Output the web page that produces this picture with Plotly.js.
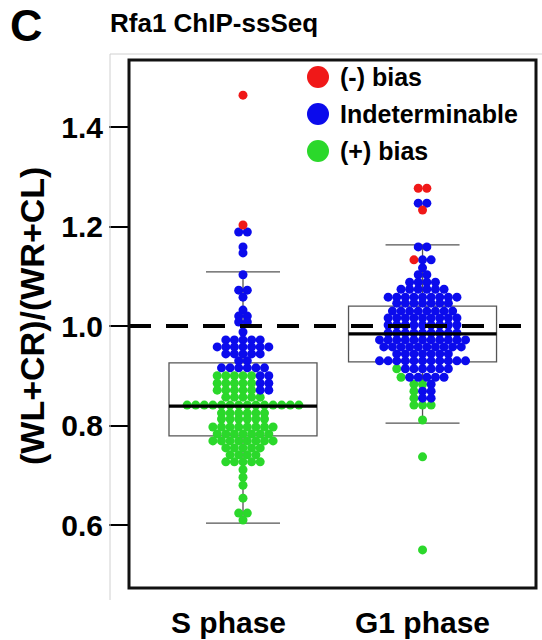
<!DOCTYPE html>
<html>
<head>
<meta charset="utf-8">
<script src="https://cdn.plot.ly/plotly-3.0.1.min.js"></script>
<style>html,body{margin:0;padding:0;background:#fff;}#chart{width:542px;height:640px;}</style>
</head>
<body>
<div id="chart"></div>
<script>
// ---------------- data ----------------
const categories = ['S phase', 'G1 phase'];
const legendLabels = ['(-) bias', 'Indeterminable', '(+) bias'];
const seriesColors = ['#f01818', '#0b0bec', '#2bd82b'];

const sRed = [1.464, 1.203];
const sBlue = [1.189, 1.189, 1.159, 1.147, 1.103, 1.072, 1.072, 1.058, 1.032, 1.020, 1.020,
  1.008, 1.008, 0.988,
  0.972, 0.972, 0.972, 0.972, 0.972,
  0.958, 0.958, 0.958, 0.958, 0.958, 0.958, 0.958,
  0.944, 0.944, 0.944, 0.944, 0.944,
  0.930, 0.930,
  0.916, 0.916, 0.916, 0.916, 0.916, 0.916,
  0.900, 0.900, 0.885, 0.885, 0.871, 0.871];
const sGreen = [0.900, 0.900, 0.900, 0.900, 0.900,
  0.885, 0.885, 0.885, 0.885, 0.885,
  0.871, 0.871, 0.871, 0.871, 0.871,
  0.857, 0.857, 0.857, 0.857, 0.857,
  0.841, 0.841, 0.841, 0.841, 0.841, 0.841, 0.841, 0.841, 0.841, 0.841, 0.841, 0.841, 0.841, 0.841,
  0.825, 0.825, 0.825, 0.825, 0.825, 0.825,
  0.813, 0.813, 0.813, 0.813, 0.813, 0.813,
  0.797, 0.797, 0.797, 0.797, 0.797, 0.797, 0.797, 0.797,
  0.783, 0.783, 0.783, 0.783, 0.783, 0.783, 0.783,
  0.769, 0.769, 0.769, 0.769, 0.769, 0.769, 0.769, 0.769,
  0.755, 0.755, 0.755, 0.755, 0.755,
  0.741, 0.741, 0.741, 0.741,
  0.727, 0.727, 0.727, 0.727, 0.727,
  0.711, 0.696, 0.680, 0.654, 0.624, 0.624, 0.610];

const g1Red = [1.277, 1.277, 1.233, 1.133];
const g1Blue = [1.247, 1.247, 1.159, 1.159, 1.133, 1.133, 1.117, 1.103, 1.103,
  1.088, 1.088, 1.088, 1.088,
  1.074, 1.074, 1.074, 1.074, 1.074, 1.074,
  1.058, 1.058, 1.058, 1.058, 1.058, 1.058, 1.058, 1.058, 1.058,
  1.046, 1.046, 1.046, 1.046, 1.046, 1.046, 1.046,
  1.030, 1.030, 1.030, 1.030, 1.030, 1.030, 1.030, 1.030,
  1.016, 1.016, 1.016, 1.016, 1.016, 1.016, 1.016, 1.016, 1.016,
  1.002, 1.002, 1.002, 1.002, 1.002, 1.002, 1.002, 1.002, 1.002,
  0.986, 0.986, 0.986, 0.986, 0.986, 0.986, 0.986, 0.986, 0.986,
  0.972, 0.972, 0.972, 0.972, 0.972, 0.972, 0.972, 0.972, 0.972, 0.972, 0.972,
  0.958, 0.958, 0.958, 0.958, 0.958, 0.958, 0.958, 0.958, 0.958, 0.958,
  0.944, 0.944, 0.944, 0.944, 0.944, 0.944, 0.944,
  0.930, 0.930, 0.930, 0.930, 0.930, 0.930, 0.930, 0.930, 0.930, 0.930, 0.930,
  0.914, 0.914, 0.914, 0.914, 0.914, 0.914,
  0.897, 0.897, 0.897, 0.897, 0.897,
  0.883, 0.869, 0.869, 0.855, 0.855];
const g1Green = [0.914, 0.897, 0.883, 0.883, 0.869, 0.855, 0.841, 0.841, 0.841, 0.811, 0.737, 0.550];

// box statistics per category
const boxLower = [0.604, 0.805];
const boxQ1 = [0.779, 0.928];
const boxMedian = [0.839, 0.984];
const boxQ3 = [0.926, 1.040];
const boxUpper = [1.109, 1.163];
const refLine = 1.0;
const yTicks = [0.6, 0.8, 1.0, 1.2, 1.4];

// ---------------- layout helpers ----------------
const W = 542, H = 640;
const M = {l: 129, r: 6, t: 60, b: 52};
const xRange = [-0.635, 1.632];
const yRange = [0.4734, 1.5347];
const plotW = W - M.l - M.r, plotH = H - M.t - M.b;
const pxPerUnit = plotW / (xRange[1] - xRange[0]);
const px = x => (x - M.l) / plotW;          // page pixel -> paper x
const py = y => (H - M.b - y) / plotH;      // page pixel -> paper y
const dotGap = 8.6 / pxPerUnit;             // horizontal spacing between dots
const boxWidth = 148 / pxPerUnit;

// dot-plot style swarm: values that coincide share a row, spread around the category
const groups = [
  [sGreen, sRed, sBlue],
  [g1Green, g1Red, g1Blue]
];
const colorOrder = [2, 0, 1]; // index into seriesColors for green, red, blue
const pts = [[], [], []];
for (let c = 0; c < 3; c++) pts[c] = {x: [], y: []};
groups.forEach((sets, gi) => {
  const rows = new Map();
  sets.forEach((vals, k) => {
    vals.forEach(v => {
      const key = v.toFixed(3);
      if (!rows.has(key)) rows.set(key, []);
      rows.get(key).push({v: v, c: colorOrder[k]});
    });
  });
  rows.forEach(list => {
    const n = list.length;
    list.forEach((p, i) => {
      pts[p.c].x.push(gi + (i - (n - 1) / 2) * dotGap);
      pts[p.c].y.push(p.v);
    });
  });
});

const traces = [];
[2, 1, 0].forEach(c => {
  traces.push({
    type: 'scatter', mode: 'markers', x: pts[c].x, y: pts[c].y,
    marker: {color: seriesColors[c], size: 9, line: {width: 0}},
    hoverinfo: 'skip', showlegend: false
  });
});

traces.push({
  type: 'box', x: [0, 1], q1: boxQ1, median: boxMedian, q3: boxQ3,
  lowerfence: boxLower, upperfence: boxUpper,
  width: boxWidth, whiskerwidth: 0.5, boxpoints: false,
  fillcolor: 'rgba(0,0,0,0)', line: {color: '#555', width: 1.3},
  hoverinfo: 'skip', showlegend: false
});

const medX = [], medY = [];
boxMedian.forEach((m, i) => {
  medX.push(i - boxWidth / 2, i + boxWidth / 2, null);
  medY.push(m, m, null);
});
traces.push({type: 'scatter', mode: 'lines', x: medX, y: medY,
  line: {color: '#000', width: 3.2}, hoverinfo: 'skip', showlegend: false});

const fontFam = 'Arial, "Liberation Sans", sans-serif';
const boldFont = (s) => ({family: fontFam, size: s, color: '#000', weight: 700});

const annotations = [
  {text: 'C', xref: 'paper', yref: 'paper', x: px(8), y: py(26), xanchor: 'left', yanchor: 'middle',
   showarrow: false, font: boldFont(45)},
  {text: '(WL+CR)/(WR+CL)', xref: 'paper', yref: 'paper', x: px(32), y: py(316), xanchor: 'center', yanchor: 'middle',
   textangle: -90, showarrow: false, font: boldFont(34)}
];
const xLabelShift = [-15, 0];
categories.forEach((c, i) => {
  annotations.push({text: c, xref: 'x', yref: 'paper', x: i, y: py(622), xshift: xLabelShift[i],
    xanchor: 'center', yanchor: 'middle', showarrow: false, font: boldFont(30)});
});
const legendY = [77, 114, 151];
const shapes = [
  {type: 'line', xref: 'paper', yref: 'y', x0: 0, x1: 1, y0: refLine, y1: refLine,
   line: {color: '#000', width: 4, dash: '22px,15px'}},
  {type: 'rect', xref: 'paper', yref: 'paper', x0: 0, x1: 1, y0: 0, y1: 1,
   line: {color: '#111', width: 3}},
  {type: 'path', xref: 'paper', yref: 'paper',
   path: `M ${px(110)} ${py(600)} L ${px(110)} ${py(54)} L ${px(542)} ${py(54)}`,
   line: {color: '#d0d0d0', width: 1}}
];
legendLabels.forEach((lab, i) => {
  shapes.push({type: 'circle', xref: 'paper', yref: 'paper', xsizemode: 'pixel', ysizemode: 'pixel',
    xanchor: px(318), yanchor: py(legendY[i]), x0: -11, x1: 11, y0: -11, y1: 11,
    fillcolor: seriesColors[i], line: {width: 0}});
  annotations.push({text: lab, xref: 'paper', yref: 'paper', x: px(338), y: py(legendY[i]),
    xanchor: 'left', yanchor: 'middle', showarrow: false, font: boldFont(25)});
});

const layout = {
  width: W, height: H, margin: M, paper_bgcolor: '#fff', plot_bgcolor: '#fff',
  title: {text: 'Rfa1 ChIP-ssSeq', xref: 'container', yref: 'container', x: 110 / W, xanchor: 'left',
          y: 1 - 23 / H, yanchor: 'middle', font: boldFont(26)},
  xaxis: {range: xRange, showgrid: false, zeroline: false, showline: false, showticklabels: false, ticks: ''},
  yaxis: {range: yRange, showgrid: false, zeroline: false, showline: false,
          tickvals: yTicks, ticktext: yTicks.map(v => v.toFixed(1)),
          ticks: 'outside', ticklen: 19, tickwidth: 2, tickcolor: '#000',
          tickfont: boldFont(30)},
  shapes: shapes, annotations: annotations, showlegend: false
};

Plotly.newPlot('chart', traces, layout, {staticPlot: true, displayModeBar: false});
</script>
</body>
</html>
